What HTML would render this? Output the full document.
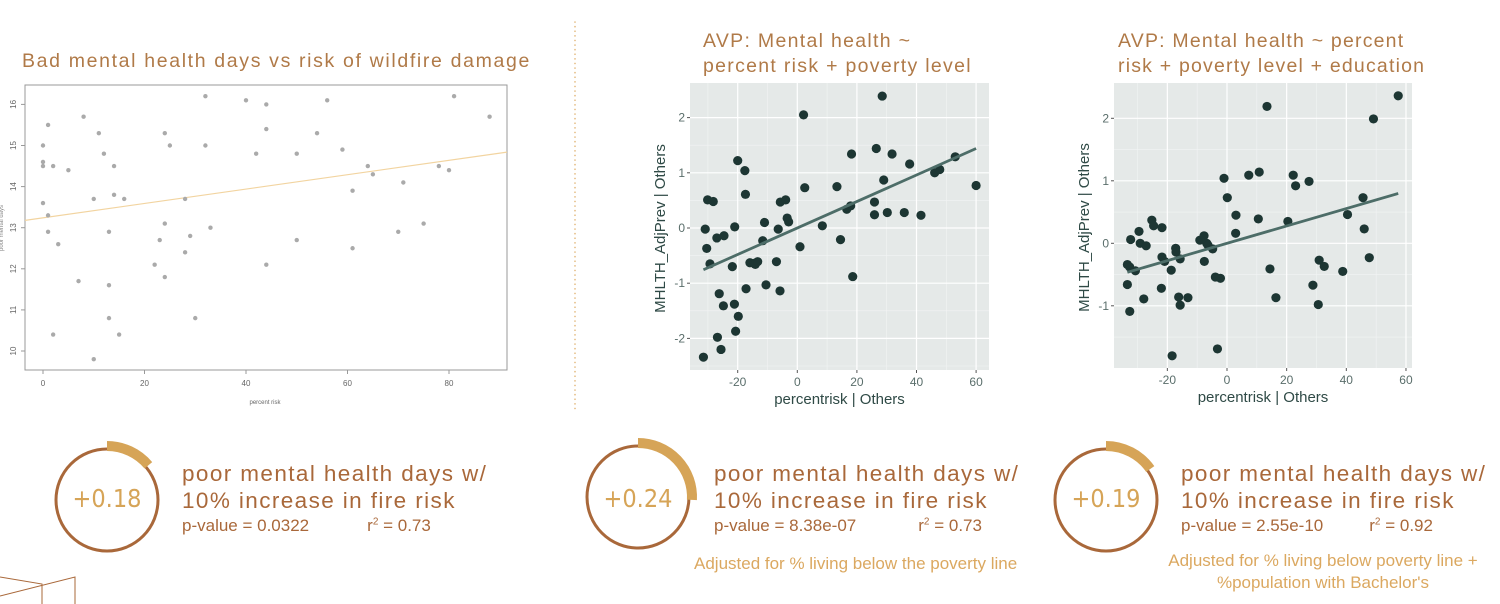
<!DOCTYPE html>
<html><head><meta charset="utf-8">
<style>
body{margin:0;width:1500px;height:604px;background:#fff;overflow:hidden;font-family:"Liberation Sans",sans-serif;position:relative}
.t{position:absolute;color:#a9683a;white-space:nowrap}
</style></head>
<body>
<svg id="svg" width="1500" height="604" style="position:absolute;left:0;top:0">
</svg>
<script>
// ---- chart 1 data ----
const c1X=[0,0,0,0,1,1,1,2,2,3,5,7,8,10,10,11,12,13,13,13,14,14,15,16,22,23,24,24,24,25,28,28,29,30,32,32,33,40,42,44,44,44,50,50,54,56,59,61,61,64,65,70,71,75,78,80,81,88];
const c1Y=[15.0,14.6,14.5,13.6,15.5,13.3,12.9,14.5,10.4,12.6,14.4,11.7,15.7,13.7,9.8,15.3,14.8,12.9,11.6,10.8,14.5,13.8,10.4,13.7,12.1,12.7,15.3,13.1,11.8,15.0,13.7,12.4,12.8,10.8,16.2,15.0,13.0,16.1,14.8,16.0,15.4,12.1,14.8,12.7,15.3,16.1,14.9,13.9,12.5,14.5,14.3,12.9,14.1,13.1,14.5,14.4,16.2,15.7];
const c1Fit=[13.24,0.0175];
const c1XTicks=[0,20,40,60,80];
const c1YTicks=[10,11,12,13,14,15,16];
// ---- chart 2 data ----
const c2X=[-31.5,-30.9,-30.4,-30.1,-29.3,-28.2,-27.0,-26.8,-26.2,-25.6,-24.8,-24.6,-21.8,-21.1,-21.0,-20.7,-20.0,-19.8,-17.6,-17.4,-17.2,-15.9,-14.5,-14.1,-13.3,-11.6,-11.0,-10.5,-7.0,-6.4,-5.8,-5.7,-3.9,-3.4,-2.9,0.9,2.1,2.5,8.4,13.3,14.5,16.6,17.9,18.2,18.6,25.9,25.9,26.5,28.5,29.0,30.2,31.8,35.9,37.7,41.5,46.1,47.8,53.0,60.0];
const c2Y=[-2.34,-0.02,-0.37,0.51,-0.65,0.48,-0.18,-1.98,-1.19,-2.20,-1.41,-0.14,-0.70,-1.38,0.02,-1.87,1.22,-1.60,1.04,0.61,-1.10,-0.63,-0.64,-0.66,-0.61,-0.23,0.10,-1.03,-0.61,-0.02,-1.14,0.47,0.51,0.18,0.11,-0.34,2.05,0.73,0.04,0.75,-0.21,0.34,0.40,1.34,-0.88,0.47,0.24,1.44,2.39,0.87,0.28,1.34,0.28,1.16,0.23,1.00,1.06,1.29,0.77];
const c2Fit=[0.0,0.024];
const c2XTicks=[-20,0,20,40,60];
const c2YTicks=[-2,-1,0,1,2];
// ---- chart 3 data ----
const c3X=[-33.4,-32.6,-33.4,-32.6,-32.3,-30.7,-29.5,-29.1,-27.1,-27.9,-25.2,-24.6,-21.8,-21.8,-22.0,-20.9,-18.7,-18.4,-17.2,-17.1,-15.7,-16.2,-15.7,-13.1,-9.1,-7.7,-7.6,-6.8,-6.4,-4.8,-3.9,-3.2,-2.2,-1.0,0.1,3.0,2.9,7.3,10.5,10.8,13.4,14.4,16.4,20.4,22.2,23.0,27.5,28.8,30.9,30.6,32.6,38.8,40.4,45.6,46.0,47.7,49.1,57.4];
const c3Y=[-0.34,-0.38,-0.66,-1.09,0.06,-0.44,0.19,0.00,-0.04,-0.89,0.37,0.28,0.25,-0.22,-0.72,-0.29,-0.43,-1.80,-0.08,-0.14,-0.25,-0.86,-0.99,-0.87,0.05,0.12,-0.29,0.00,-0.03,-0.09,-0.54,-1.69,-0.56,1.04,0.73,0.45,0.16,1.09,0.39,1.14,2.19,-0.41,-0.87,0.35,1.09,0.92,0.99,-0.67,-0.27,-0.98,-0.37,-0.45,0.46,0.73,0.23,-0.23,1.99,2.36];
const c3Fit=[0.0,0.0139];
const c3XTicks=[-20,0,20,40,60];
const c3YTicks=[-1,0,1,2];

const NS='http://www.w3.org/2000/svg';
const svg=document.getElementById('svg');
function mk(tag,attrs,parent){const e=document.createElementNS(NS,tag);for(const k in attrs)e.setAttribute(k,attrs[k]);(parent||svg).appendChild(e);return e;}

// Chart 1 (base R style)
(function(){
  const g=mk('g',{});
  
  
  const sx=v=>43+v*5.075, sy=v=>351-(v-10)*41.1;
  const box=mk('rect',{x:25,y:85,width:482,height:285,fill:'none',stroke:'#999','stroke-width':1},g);
  
  
  c1XTicks.forEach(t=>{
    mk('line',{x1:sx(t),x2:sx(t),y1:370,y2:374,stroke:'#999'},g);
    const tx=mk('text',{x:sx(t),y:386,'font-size':8,fill:'#666','text-anchor':'middle'},g);tx.textContent=t;
    
    
  });
  c1YTicks.forEach(t=>{
    mk('line',{x1:21,x2:25,y1:sy(t),y2:sy(t),stroke:'#999'},g);
    const tx=mk('text',{x:16,y:sy(t),'font-size':8,fill:'#666','text-anchor':'middle',transform:`rotate(-90 16 ${sy(t)})`},g);tx.textContent=t;
    
    
  });
  const xt=mk('text',{x:265,y:404,'font-size':6,fill:'#666','text-anchor':'middle'},g);xt.textContent='percent risk';
  
  
  const yt=mk('text',{x:3,y:228,'font-size':6,fill:'#888','text-anchor':'middle',transform:'rotate(-90 3 228)'},g);yt.textContent='poor mental days';
  
  
  const fl=mk('line',{x1:25,x2:507,y1:sy(c1Fit[0]+c1Fit[1]*-3.55),y2:sy(c1Fit[0]+c1Fit[1]*91.4),stroke:'#f2d4a0','stroke-width':1.2},g);
  
  
  c1X.forEach((x,i)=>{
    const c=mk('circle',{cx:sx(x),cy:sy(c1Y[i]),r:2.2,fill:'#aaa'},g);
    
    
  });
})();

function ggplot(name,X,Y,fit,xt,yt,px0,px1,py0,py1,x0,xs,y0,ys,yMinor,fitRange){
  const g=mk('g',{});
  
  
  const sx=v=>x0+v*xs, sy=v=>y0-v*ys;
  const bg=mk('rect',{x:px0,y:py0,width:px1-px0,height:py1-py0,fill:'#e5e9e8'},g);
  
  
  [-30,-10,10,30,50].forEach(t=>mk('line',{x1:sx(t),x2:sx(t),y1:py0,y2:py1,stroke:'#f2f4f4','stroke-width':0.6},g));
  yMinor.forEach(t=>mk('line',{x1:px0,x2:px1,y1:sy(t),y2:sy(t),stroke:'#f2f4f4','stroke-width':0.6},g));
  xt.forEach(t=>{
    mk('line',{x1:sx(t),x2:sx(t),y1:py0,y2:py1,stroke:'#fff','stroke-width':1.2},g);
    mk('line',{x1:sx(t),x2:sx(t),y1:py1,y2:py1+3,stroke:'#555'},g);
    const tx=mk('text',{x:sx(t),y:py1+16,'font-size':12,fill:'#5a6e6b','text-anchor':'middle'},g);tx.textContent=t;
    
    
  });
  yt.forEach(t=>{
    mk('line',{x1:px0,x2:px1,y1:sy(t),y2:sy(t),stroke:'#fff','stroke-width':1.2},g);
    mk('line',{x1:px0-3,x2:px0,y1:sy(t),y2:sy(t),stroke:'#555'},g);
    const tx=mk('text',{x:px0-5,y:sy(t)+4,'font-size':12,fill:'#5a6e6b','text-anchor':'end'},g);tx.textContent=t;
    
    
  });
  const xtl=mk('text',{x:(px0+px1)/2,y:py1+34,'font-size':15,fill:'#2f4a46','text-anchor':'middle'},g);xtl.textContent='percentrisk  | Others';
  
  
  const yx=px0-25, yc=(py0+py1)/2+2;
  const ytl=mk('text',{x:yx,y:yc,'font-size':15,fill:'#2f4a46','text-anchor':'middle',transform:`rotate(-90 ${yx} ${yc})`},g);ytl.textContent='MHLTH_AdjPrev  | Others';
  
  
  X.forEach((x,i)=>{
    const c=mk('circle',{cx:sx(x),cy:sy(Y[i]),r:4.6,fill:'#1d3633'},g);
    
    
  });
  const fl=mk('line',{x1:sx(fitRange[0]),y1:sy(fit[0]+fit[1]*fitRange[0]),x2:sx(fitRange[1]),y2:sy(fit[0]+fit[1]*fitRange[1]),stroke:'#4d6d68','stroke-width':2.8},g);
  
  
}
ggplot('chart-2',c2X,c2Y,c2Fit,c2XTicks,c2YTicks,690,989,83,370,797.3,2.98,228,55.2,[-2.5,-1.5,-0.5,0.5,1.5],[-31.5,60]);
ggplot('chart-3',c3X,c3Y,c3Fit,c3XTicks,c3YTicks,1114,1412,83,368,1227,2.983,243.3,62.5,[-1.5,-0.5,0.5,1.5],[-33.4,57.4]);

// divider + decorations
const dv=mk('line',{x1:575,x2:575,y1:22,y2:412,stroke:'#e2b77a','stroke-width':1.6,'stroke-dasharray':'0.1 4.5','stroke-linecap':'round'});


const deco=mk('path',{d:'M0 577 L42 584 L42 604 M0 596 L75 577 L75 604',fill:'none',stroke:'#a9683a','stroke-width':1});



// gauges
function gauge(name,cx,cy,deg){
  const r=51;
  const c=mk('circle',{cx:cx,cy:cy,r:r,fill:'none',stroke:'#a9683a','stroke-width':3});
  
  
  const ra=r+3, a=deg*Math.PI/180;
  const ex=cx+ra*Math.sin(a), ey=cy-ra*Math.cos(a);
  const p=mk('path',{d:`M${cx} ${cy-ra} A${ra} ${ra} 0 0 1 ${ex} ${ey}`,fill:'none',stroke:'#d6a457','stroke-width':10});
  
  
}
gauge('gauge-1',107,500,50);
gauge('gauge-2',638,497,93);
gauge('gauge-3',1106,500,55);
</script>

<div class="t" style="left:22px;top:50px;font-size:19.5px;letter-spacing:1.65px;color:#b07a48">Bad mental health days vs risk of wildfire damage</div>
<div class="t" style="left:703px;top:29px;font-size:19.5px;line-height:25px;letter-spacing:1.3px;color:#b07a48">AVP: Mental health ~<br>percent risk + poverty level</div>
<div class="t" style="left:1118px;top:29px;font-size:19.5px;line-height:25px;letter-spacing:1.2px;color:#b07a48">AVP: Mental health ~ percent<br>risk + poverty level + education</div>

<div class="t" style="left:57px;top:484px;width:100px;text-align:center;font-size:25px;color:#d6a457;font-family:'DejaVu Sans Condensed','Liberation Sans Narrow',sans-serif;font-weight:200">+0.18</div>
<div class="t" style="left:588px;top:484px;width:100px;text-align:center;font-size:25px;color:#d6a457;font-family:'DejaVu Sans Condensed','Liberation Sans Narrow',sans-serif">+0.24</div>
<div class="t" style="left:1056px;top:484px;width:100px;text-align:center;font-size:25px;color:#d6a457;font-family:'DejaVu Sans Condensed','Liberation Sans Narrow',sans-serif">+0.19</div>

<div class="t" style="left:182px;top:460px;font-size:22.5px;line-height:27px;letter-spacing:1.4px">poor mental health days w/<br>10% increase in fire risk</div>
<div class="t" style="left:182px;top:516px;font-size:17px">p-value = 0.0322<span style="margin-left:58px">r<sup style="font-size:10px">2</sup> = 0.73</span></div>

<div class="t" style="left:714px;top:460px;font-size:22.5px;line-height:27px;letter-spacing:1.4px">poor mental health days w/<br>10% increase in fire risk</div>
<div class="t" style="left:714px;top:516px;font-size:17px">p-value = 8.38e-07<span style="margin-left:62px">r<sup style="font-size:10px">2</sup> = 0.73</span></div>
<div class="t" style="left:694px;top:554px;font-size:17px;color:#dba860">Adjusted for % living below the poverty line</div>

<div class="t" style="left:1181px;top:460px;font-size:22.5px;line-height:27px;letter-spacing:1.4px">poor mental health days w/<br>10% increase in fire risk</div>
<div class="t" style="left:1181px;top:516px;font-size:17px">p-value = 2.55e-10<span style="margin-left:46px">r<sup style="font-size:10px">2</sup> = 0.92</span></div>
<div class="t" style="left:1160px;top:550px;width:326px;text-align:center;font-size:17px;line-height:22px;color:#dba860">Adjusted for % living below poverty line +<br>%population with Bachelor's</div>
</body></html>
